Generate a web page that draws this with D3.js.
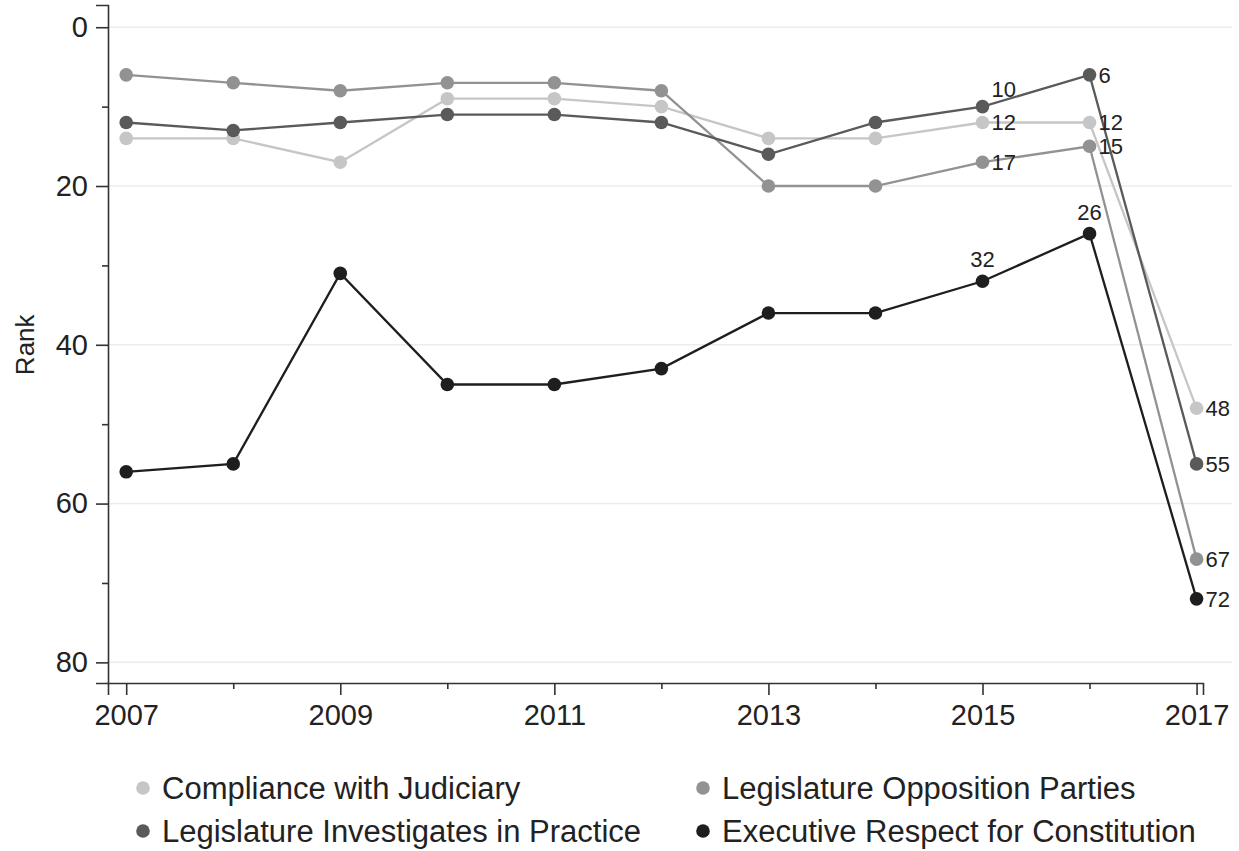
<!DOCTYPE html>
<html>
<head>
<meta charset="utf-8">
<script src="https://cdn.jsdelivr.net/npm/d3@7"></script>
<style>
  html, body { margin: 0; padding: 0; background: #fff; }
  svg { display: block; font-family: "Liberation Sans", Arial, sans-serif; }
</style>
</head>
<body>
<svg id="chart" width="1239" height="851"></svg>
<script>
// ---- data ----
const years = [2007, 2008, 2009, 2010, 2011, 2012, 2013, 2014, 2015, 2016, 2017];
const seriesNames = [
  "Compliance with Judiciary",
  "Legislature Opposition Parties",
  "Legislature Investigates in Practice",
  "Executive Respect for Constitution"
];
const compliance   = [14, 14, 17, 9, 9, 10, 14, 14, 12, 12, 48];
const opposition   = [6, 7, 8, 7, 7, 8, 20, 20, 17, 15, 67];
const investigates = [12, 13, 12, 11, 11, 12, 16, 12, 10, 6, 55];
const executive    = [56, 55, 31, 45, 45, 43, 36, 36, 32, 26, 72];
const yMajorTicks = [0, 20, 40, 60, 80];
const yMinorTicks = [10, 30, 50, 70];
const xMajorTicks = [2007, 2009, 2011, 2013, 2015, 2017];
const xMinorTicks = [2008, 2010, 2012, 2014, 2016];
const labeledYears = [2015, 2016, 2017];

// ---- styles ----
const colors = ["#c6c6c6", "#929292", "#5a5a5a", "#1e1e1e"];
// label placement per series for labeled years (right / above / upright)
const labelPlacement = [
  ["right", "right", "right"],
  ["right", "right", "right"],
  ["upright", "right", "right"],
  ["above", "above", "right"]
];

const allValues = [compliance, opposition, investigates, executive];
const series = seriesNames.map((name, i) => ({
  name, color: colors[i],
  points: years.map((yr, j) => ({ year: yr, value: allValues[i][j] }))
}));

const svg = d3.select("#chart");

const x = d3.scaleLinear().domain([2006.83, 2017.06]).range([108, 1203]);
const y = d3.scaleLinear().domain([-2.8, 82.6]).range([5, 683]);

// gridlines
svg.append("g").selectAll("line").data(yMajorTicks).join("line")
  .attr("x1", 108).attr("x2", 1232)
  .attr("y1", d => y(d)).attr("y2", d => y(d))
  .attr("stroke", "#ececec").attr("stroke-width", 1.5);

// y axis
const yAxis = svg.append("g").attr("transform", "translate(108,0)")
  .call(d3.axisLeft(y).tickValues(yMajorTicks).tickSize(12).tickPadding(8));
const yMinor = svg.append("g").attr("transform", "translate(108,0)")
  .call(d3.axisLeft(y).tickValues(yMinorTicks).tickSize(6).tickFormat(""));
yMinor.select(".domain").remove();

// x axis
const xAxis = svg.append("g").attr("transform", "translate(0,683)")
  .call(d3.axisBottom(x).tickValues(xMajorTicks).tickSize(12).tickPadding(9).tickFormat(d3.format("d")));
const xMinor = svg.append("g").attr("transform", "translate(0,683)")
  .call(d3.axisBottom(x).tickValues(xMinorTicks).tickSize(6).tickFormat(""));
xMinor.select(".domain").remove();

[yAxis, yMinor, xAxis, xMinor].forEach(g => {
  g.selectAll(".domain").attr("stroke", "#333").attr("stroke-width", 1.6);
  g.selectAll(".tick line").attr("stroke", "#333").attr("stroke-width", 1.6);
  g.selectAll("text").attr("fill", "#222").attr("font-size", 29)
    .attr("font-family", "Liberation Sans, Arial, sans-serif");
});

// y title
svg.append("text")
  .attr("transform", `translate(34,${y(40)}) rotate(-90)`)
  .attr("text-anchor", "middle")
  .attr("font-size", 26).attr("fill", "#222")
  .text("Rank");

// lines
const line = d3.line().x(d => x(d.year)).y(d => y(d.value));
const gS = svg.append("g");
series.forEach(s => {
  gS.append("path").datum(s.points)
    .attr("fill", "none").attr("stroke", s.color).attr("stroke-width", 2.3)
    .attr("d", line);
});
series.forEach(s => {
  gS.append("g").selectAll("circle").data(s.points).join("circle")
    .attr("cx", d => x(d.year)).attr("cy", d => y(d.value))
    .attr("r", 6.8).attr("fill", s.color);
});

// labels
const gL = svg.append("g");
series.forEach((s, i) => {
  s.points.filter(p => labeledYears.includes(p.year)).forEach(p => {
    const pos = labelPlacement[i][labeledYears.indexOf(p.year)];
    const t = gL.append("text").attr("font-size", 22).attr("fill", "#222").text(p.value);
    const px = x(p.year), py = y(p.value);
    if (pos === "right") {
      t.attr("x", px + 9).attr("y", py).attr("dy", "0.36em").attr("text-anchor", "start");
    } else if (pos === "above") {
      t.attr("x", px).attr("y", py - 14).attr("text-anchor", "middle");
    } else {
      t.attr("x", px + 9).attr("y", py - 10).attr("text-anchor", "start");
    }
  });
});

// legend
const legendPos = [
  { lx: 143, ly: 788 },
  { lx: 703, ly: 788 },
  { lx: 143, ly: 831 },
  { lx: 703, ly: 831 }
];
const gLeg = svg.append("g");
series.forEach((s, i) => {
  const p = legendPos[i];
  gLeg.append("circle").attr("cx", p.lx).attr("cy", p.ly).attr("r", 6.8).attr("fill", s.color);
  gLeg.append("text").attr("x", p.lx + 19).attr("y", p.ly).attr("dy", "0.36em")
    .attr("font-size", 31).attr("fill", "#222").text(s.name);
});
</script>
</body>
</html>
